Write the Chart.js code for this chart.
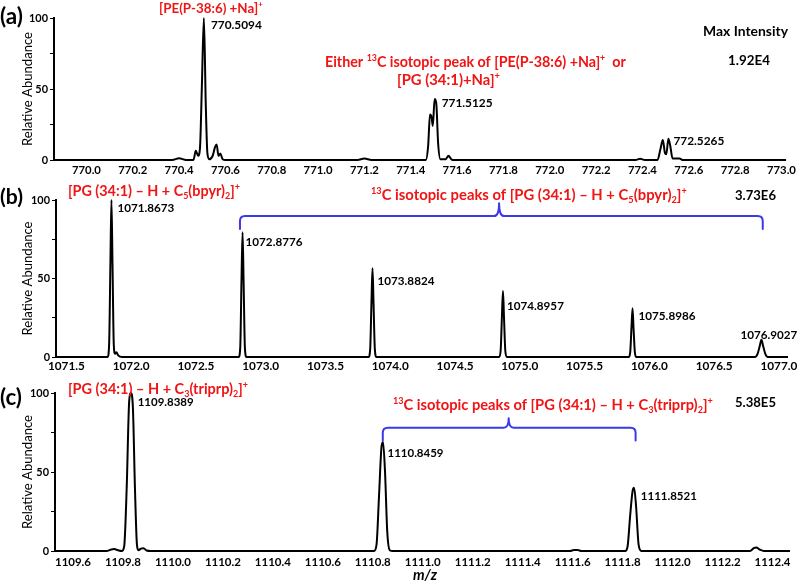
<!DOCTYPE html>
<html><head><meta charset="utf-8">
<script src="https://cdn.jsdelivr.net/npm/chart.js@4/dist/chart.umd.min.js"></script>
<style>
html,body{margin:0;padding:0;background:#fff;}
#wrap{position:relative;width:800px;height:582px;overflow:hidden;background:#fff;}
canvas{position:absolute;left:0;}
</style></head><body>
<div id="wrap">
<canvas id="ca" width="800" height="180" style="top:0px"></canvas>
<canvas id="cb" width="800" height="195" style="top:180px"></canvas>
<canvas id="cc" width="800" height="207" style="top:375px"></canvas>
</div>
<script>
// ---------------- DATA ----------------
// Panel (a): m/z 770 - 773 profile (relative abundance, %)
const mzA = [769.86,770.37,770.40,770.43,770.462,770.472,770.482,770.49,770.498,770.507,770.515,770.522,770.53,770.545,770.555,770.562,770.57,770.578,770.588,770.60,
  771.17,771.20,771.23,771.465,771.475,771.483,771.49,771.495,771.503,771.51,771.518,771.528,771.55,771.563,771.575,771.59,
  772.37,772.39,772.41,772.465,772.478,772.488,772.497,772.503,772.512,772.52,772.53,772.56,772.575,773.02];
const relA = [0,0,1.2,0,0,6.5,3,8,50,100,40,5,0.5,3,9,11,3,4.5,0.5,0,
  0,1,0,0,10,32,30,24,43,40,12,0.5,0.5,3,0.5,0,
  0,0.8,0,0,8,14,5,4,15,10,1,1,0,0];
const ticksA = [770.0,770.2,770.4,770.6,770.8,771.0,771.2,771.4,771.6,771.8,772.0,772.2,772.4,772.6,772.8,773.0];
const peakTextA = ['770.5094','771.5125','772.5265'];
const peakMzA = [770.507,771.503,772.512];
const peakRelA = [100,43,15];

// Panel (b): m/z 1071.5 - 1077.0
const mzB = [1071.42,1071.818,1071.83,1071.84,1071.848,1071.856,1071.866,1071.876,1071.886,1071.90,1071.93,
  1072.83,1072.842,1072.852,1072.86,1072.868,1072.878,1072.89,
  1073.833,1073.845,1073.855,1073.863,1073.871,1073.881,1073.893,
  1074.84,1074.852,1074.862,1074.87,1074.878,1074.888,1074.90,
  1075.84,1075.852,1075.862,1075.87,1075.878,1075.888,1075.90,
  1076.815,1076.835,1076.852,1076.865,1076.878,1076.895,1076.915,1077.07];
const relB = [0,0,8,60,100,60,8,2,3,1,0,
  0,6,50,79.5,48,6,0,
  0,5,35,56.5,34,5,0,
  0,4,26,42,25,4,0,
  0,3,19,31,18,3,0,
  0,2,7,11,7,2,0,0];
const ticksB = [1071.5,1072.0,1072.5,1073.0,1073.5,1074.0,1074.5,1075.0,1075.5,1076.0,1076.5,1077.0];
const peakTextB = ['1071.8673','1072.8776','1073.8824','1074.8957','1075.8986','1076.9027'];
const peakMzB = [1071.848,1072.86,1073.863,1074.87,1075.87,1076.865];
const peakRelB = [100,79.5,56.5,42,31,11];

// Panel (c): m/z 1109.6 - 1112.4
const mzC = [1109.528,1109.735,1109.75,1109.765,1109.78,1109.795,1109.805,1109.815,1109.825,1109.832,1109.84,1109.848,1109.856,1109.862,1109.872,1109.882,1109.895,1109.91,
  1110.805,1110.815,1110.825,1110.835,1110.841,1110.849,1110.858,1110.868,1110.88,
  1111.59,1111.605,1111.62,1111.635,
  1111.81,1111.82,1111.83,1111.84,1111.846,1111.854,1111.864,1111.875,
  1112.31,1112.325,1112.335,1112.35,1112.365,1112.47];
const relC = [0,0,0.8,1.2,0.5,0,3,40,95,100,90,40,4,0.5,1.5,1.8,0.3,0,
  0,4,35,66,69,50,12,0.5,0,
  0,0.6,0.6,0,
  0,3,22,38,40,28,4,0,
  0,1.8,2.2,0.8,0,0];
const ticksC = [1109.6,1109.8,1110.0,1110.2,1110.4,1110.6,1110.8,1111.0,1111.2,1111.4,1111.6,1111.8,1112.0,1112.2,1112.4];
const peakTextC = ['1109.8389','1110.8459','1111.8521'];
const peakMzC = [1109.831,1110.839,1111.845];
const peakRelC = [100,69,40];

const maxIntA = '1.92E4', maxIntB = '3.73E6', maxIntC = '5.38E5';

// ---------------- HELPERS ----------------
const FAM = 'Lato, "Open Sans", "DejaVu Sans", sans-serif';
const RED = '#f01414', BLUE = '#3a3ae8';
const mctx = document.createElement('canvas').getContext('2d');
const SUPK = 0.62;
function richWidth(segs, size, weight, style){
  let w = 0;
  for (const [t,m] of segs){ const s = m ? size*SUPK : size; mctx.font = `${style||'normal'} ${weight||'bold'} ${s}px ${FAM}`; w += mctx.measureText(t).width; }
  return w;
}
function fitRich(segs, w, weight, style){ return 100*w/richWidth(segs,100,weight,style); }
function fitText(t, w, weight, style){ return fitRich([[t,'']], w, weight, style); }
function drawRich(ctx, segs, x, y, size, color, weight, style){
  ctx.save(); ctx.fillStyle = color; ctx.textBaseline = 'alphabetic'; ctx.textAlign = 'left';
  let cx = x; const base = y + size*0.36;
  for (const [t,m] of segs){
    const s = m ? size*SUPK : size;
    ctx.font = `${style||'normal'} ${weight||'bold'} ${s}px ${FAM}`;
    let by = base;
    if (m === 'sup') by = base - size*0.40;
    if (m === 'sub') by = base + size*0.20;
    ctx.fillText(t, cx, by);
    cx += ctx.measureText(t).width;
  }
  ctx.restore();
}
function drawBrace(ctx, xs, ys, b){
  const x1 = xs.getPixelForValue(b.mz1), x2 = xs.getPixelForValue(b.mz2), xm = xs.getPixelForValue(b.mzMid);
  const yE = ys.getPixelForValue(b.yEnd), yB = ys.getPixelForValue(b.yBar), yT = ys.getPixelForValue(b.yTip);
  const r = 5;
  ctx.save(); ctx.strokeStyle = BLUE; ctx.lineWidth = 2; ctx.lineJoin = 'round'; ctx.lineCap = 'round';
  ctx.beginPath();
  ctx.moveTo(x1, yE); ctx.lineTo(x1, yB + r); ctx.quadraticCurveTo(x1, yB, x1 + r, yB);
  ctx.lineTo(xm - r, yB); ctx.quadraticCurveTo(xm, yB, xm, yT); ctx.quadraticCurveTo(xm, yB, xm + r, yB);
  ctx.lineTo(x2 - r, yB); ctx.quadraticCurveTo(x2, yB, x2, yB + r); ctx.lineTo(x2, yE);
  ctx.stroke(); ctx.restore();
}

// rich labels
const titleA = [['[PE(P-38:6) +Na]',''],['+','sup']];
const isoA1 = [['Either ',''],['13','sup'],['C isotopic peak of [PE(P-38:6) +Na]',''],['+','sup'],['  or','']];
const isoA2 = [['[PG (34:1)+Na]',''],['+','sup']];
const titleB = [['[PG (34:1) \u2013 H + C',''],['5','sub'],['(bpyr)',''],['2','sub'],[']',''],['+','sup']];
const isoB = [['13','sup'],['C isotopic peaks of [PG (34:1) \u2013 H + C',''],['5','sub'],['(bpyr)',''],['2','sub'],[']',''],['+','sup']];
const titleC = [['[PG (34:1) \u2013 H + C',''],['3','sub'],['(triprp)',''],['2','sub'],[']',''],['+','sup']];
const isoC = [['13','sup'],['C isotopic peaks of [PG (34:1) \u2013 H + C',''],['3','sub'],['(triprp)',''],['2','sub'],[']',''],['+','sup']];

// layout (page coordinates): left x, centre y, width
const panels = [
  { id:'ca', top:0, mz:mzA, rel:relA, ticks:ticksA, xmin:769.86, xmax:773.02,
    geo:{top:18,right:10,yw:54,xh:20,xpad:4}, xtw:['770.0',29],
    peaks:{text:peakTextA, mz:peakMzA, rel:peakRelA, off:[[7,7],[7,4],[5,2]], w:[51,51,51]},
    texts:[
      {segs:[['(a)','']], x:0, y:16, w:23, c:'#000'},
      {segs:titleA, x:159, y:8, w:104, c:RED},
      {segs:isoA1, x:325, y:62, w:301, c:RED},
      {segs:isoA2, x:397, y:80, w:103, c:RED},
      {segs:[['Max Intensity','']], x:703, y:31, w:85, c:'#000'},
      {segs:[[maxIntA,'']], x:728, y:60, w:42, c:'#000'}
    ], brace:null },
  { id:'cb', top:180, mz:mzB, rel:relB, ticks:ticksB, xmin:1071.42, xmax:1077.07,
    geo:{top:20,right:12,yw:56,xh:18,xpad:2}, xtw:['1071.5',37],
    peaks:{text:peakTextB, mz:peakMzB, rel:peakRelB, off:[[6,8],[3,10],[5,12],[4,15],[6,7],[-21,-5]], w:[57,57,57,57,57,57]},
    texts:[
      {segs:[['(b)','']], x:0, y:196, w:23, c:'#000'},
      {segs:titleB, x:68, y:191, w:172, c:RED},
      {segs:isoB, x:371, y:195, w:316, c:RED},
      {segs:[[maxIntB,'']], x:735, y:195, w:41, c:'#000'}
    ], brace:{mz1:1072.84, mz2:1076.875, mzMid:1074.84, yEnd:81.5, yBar:89.8, yTip:98} },
  { id:'cc', top:375, mz:mzC, rel:relC, ticks:ticksC, xmin:1109.528, xmax:1112.47,
    geo:{top:18,right:10,yw:55,xh:31,xpad:4}, xtw:['1109.6',36],
    peaks:{text:peakTextC, mz:peakMzC, rel:peakRelC, off:[[7,9],[5,11],[7,8]], w:[56,56,56]},
    texts:[
      {segs:[['(c)','']], x:0, y:397, w:22, c:'#000'},
      {segs:titleC, x:68, y:389, w:180, c:RED},
      {segs:isoC, x:393, y:405, w:320, c:RED},
      {segs:[[maxIntC,'']], x:735, y:402, w:41, c:'#000'},
      {segs:[['m/z','']], x:413, y:575, w:24, c:'#000', style:'italic'}
    ], brace:{mz1:1110.84, mz2:1111.852, mzMid:1111.344, yEnd:70, yBar:78, yTip:84} }
];

const yTickSize = fitText('100', 19);
const ylabSize = fitText('Relative Abundance', 114, 'normal');

panels.forEach(p => {
  const xTickSize = fitText(p.xtw[0], p.xtw[1]);
  const annot = {
    id:'annot',
    afterDraw(chart){
      const ctx = chart.ctx, xs = chart.scales.x, ys = chart.scales.y, ca = chart.chartArea;
      // y-axis title
      ctx.save();
      ctx.translate(28, (ca.top + ca.bottom)/2);
      ctx.rotate(-Math.PI/2);
      ctx.font = `normal normal ${ylabSize}px ${FAM}`; ctx.fillStyle = '#000';
      ctx.textAlign = 'center'; ctx.textBaseline = 'middle';
      ctx.fillText('Relative Abundance', 0, 0);
      ctx.restore();
      // texts
      p.texts.forEach(t => {
        const size = fitRich(t.segs, t.w, 'bold', t.style);
        drawRich(ctx, t.segs, t.x, t.y - p.top, size, t.c, 'bold', t.style);
      });
      // peak labels
      p.peaks.text.forEach((txt, i) => {
        const size = fitText(txt, p.peaks.w[i]);
        const px = xs.getPixelForValue(p.peaks.mz[i]) + p.peaks.off[i][0];
        const py = ys.getPixelForValue(p.peaks.rel[i]) + p.peaks.off[i][1];
        drawRich(ctx, [[txt,'']], px, py, size, '#000');
      });
      if (p.brace) drawBrace(ctx, xs, ys, p.brace);
    }
  };
  new Chart(document.getElementById(p.id), {
    type:'line',
    data:{ datasets:[{ data:p.mz.map((x,i)=>({x:x, y:p.rel[i]})), borderColor:'#000', borderWidth:2,
      pointRadius:0, cubicInterpolationMode:'monotone', fill:false, clip:6 }] },
    options:{
      responsive:false, animation:false, devicePixelRatio:1, events:[],
      layout:{padding:{top:p.geo.top, right:p.geo.right, left:0, bottom:0}},
      plugins:{legend:{display:false}, tooltip:{enabled:false}},
      scales:{
        x:{ type:'linear', min:p.xmin, max:p.xmax,
          afterBuildTicks: s => { s.ticks = p.ticks.map(v => ({value:v})); },
          afterFit: s => { s.height = p.geo.xh; },
          grid:{display:false, drawTicks:false}, border:{display:false},
          ticks:{ autoSkip:false, maxRotation:0, minRotation:0, padding:p.geo.xpad, color:'#000',
            font:{family:FAM, weight:'bold', size:xTickSize}, callback: v => Number(v).toFixed(1) } },
        y:{ min:0, max:100,
          afterFit: s => { s.width = p.geo.yw; },
          ticks:{ stepSize:25, padding:2, color:'#000', font:{family:FAM, weight:'bold', size:yTickSize},
            callback: v => (v % 50 === 0 ? String(v) : '') },
          grid:{ drawOnChartArea:false, color:'#000', tickLength:4, lineWidth:1 },
          border:{ color:'#000', width:2 } }
      }
    },
    plugins:[annot]
  });
});
</script>
</body></html>
